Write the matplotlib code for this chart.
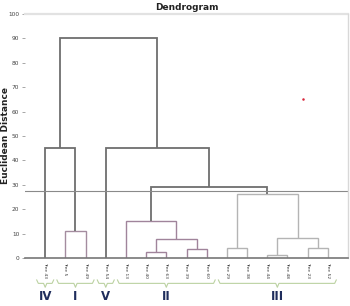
import matplotlib
matplotlib.use("Agg")
import matplotlib.pyplot as plt
import numpy as np

# ---- data ----
leaves = ["Tree 43", "Tree 5", "Tree 49", "Tree 54", "Tree 13", "Tree 40", "Tree 63",
          "Tree 39", "Tree 60", "Tree 29", "Tree 38", "Tree 44", "Tree 48", "Tree 23", "Tree 52"]
# merges: (left node, right node, height); new node ids start at len(leaves)
merge_left = [1, 5, 7, 16, 4, 9, 11, 13, 21, 20, 19, 3, 0, 27]
merge_right = [2, 6, 8, 17, 18, 10, 12, 14, 22, 23, 24, 25, 15, 26]
merge_height = [11.0, 2.3, 3.6, 7.8, 15.2, 4.1, 1.2, 4.0, 8.3, 26.1, 29.2, 45.0, 45.0, 90.0]
merge_group = ["I", "II", "II", "II", "II", "III", "III", "III", "III", "III", "root", "root", "root", "root"]
threshold = 27.6
marker_point = (13.75, 65.2)
group_names = ["IV", "I", "V", "II", "III"]
group_first = [0, 1, 3, 4, 9]
group_last = [0, 2, 3, 8, 14]
yticks = list(range(0, 101, 10))

colors = {"I": "#a48c9f", "II": "#a0849b", "III": "#b4b4b4", "root": "#6e6e6e"}

fig = plt.figure(figsize=(3.5, 3.06), dpi=100)
ax = fig.add_axes([25 / 350, 1 - 258 / 306, 323 / 350, 244 / 306])

n = len(leaves)
pos = {i: (i + 1.0, 0.0) for i in range(n)}
for k, (a, b, h, g) in enumerate(zip(merge_left, merge_right, merge_height, merge_group)):
    xa, ya = pos[a]
    xb, yb = pos[b]
    c = colors[g]
    lw = 1.3 if g == "root" else 1.0
    ax.plot([xa, xa, xb, xb], [ya, h, h, yb], color=c, lw=lw, solid_joinstyle="miter",
            solid_capstyle="butt")
    pos[n + k] = ((xa + xb) / 2.0, h)

ax.axhline(threshold, color="#8a8a8a", lw=0.8)
ax.axhline(100, color="#e2e2e2", lw=1.6, clip_on=False)
ax.plot([marker_point[0]], [marker_point[1]], "o", color="#d8263a", ms=1.8, mec="none")

ax.set_xlim(0, n + 1)
ax.set_ylim(0, 100)
ax.set_yticks(yticks)
ax.set_yticklabels([str(t) for t in yticks], fontsize=4.2, color="#444444")
ax.set_xticks(np.arange(1, n + 1))
ax.set_xticklabels(leaves, rotation=-90, fontsize=3.2, color="#333333", va="top")
ax.tick_params(axis="x", length=0, pad=3)
ax.tick_params(axis="y", length=2, width=0.6, color="#999999", pad=2)
for s in ["left", "top"]:
    ax.spines[s].set_visible(False)
ax.spines["right"].set_color("#d8d8d8")
ax.spines["right"].set_linewidth(1.0)
ax.spines["bottom"].set_color("#777777")
ax.spines["bottom"].set_linewidth(1.2)

ax.set_title("Dendrogram", fontsize=6.5, fontweight="bold", pad=3, color="#222222")
fig.text(6 / 350, 1 - 136 / 306, "Euclidean Distance", rotation=90, fontsize=6.5,
         fontweight="bold", ha="center", va="center", color="#222222")

# braces + group labels
trans = ax.get_xaxis_transform()
yb, yt, ym = -0.104, -0.09, -0.128
for name, f, l in zip(group_names, group_first, group_last):
    x0 = f + 1 - 0.42
    x1 = l + 1 + 0.42
    xm = (x0 + x1) / 2
    bc = "#bcd2a2"
    ax.plot([x0, x0 + 0.08, xm - 0.08, xm, xm + 0.08, x1 - 0.08, x1],
            [yt, yb, yb, ym + 0.008, yb, yb, yt], color=bc, lw=0.8, transform=trans,
            clip_on=False)
    ax.text(xm, -0.158, name, transform=trans, ha="center", va="center", fontsize=8.5,
            fontweight="bold", color="#1f2d5c")

fig.savefig("out.png", dpi=100)
